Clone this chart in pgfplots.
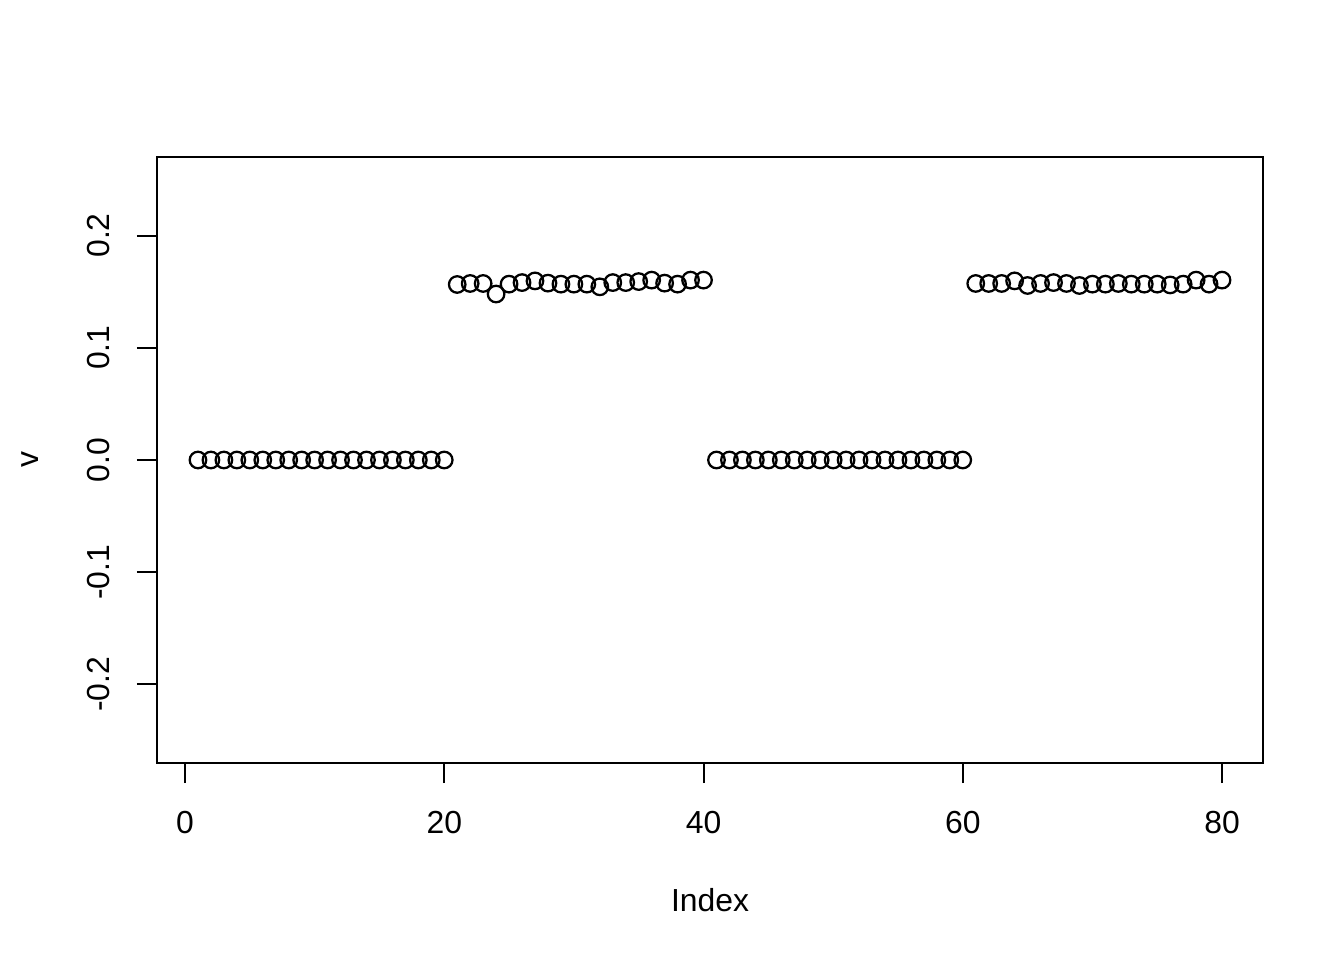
\documentclass[12pt,border=0pt]{standalone}
\usepackage{fontspec}
\setmainfont{Liberation Sans}
\usepackage{pgfplots}
\pgfplotsset{compat=1.18}
\usepackage{pgfplotstable}

\pgfplotstableread{
i v
1 0
2 0
3 0
4 0
5 0
6 0
7 0
8 0
9 0
10 0
11 0
12 0
13 0
14 0
15 0
16 0
17 0
18 0
19 0
20 0
21 0.1564
22 0.1573
23 0.1573
24 0.1479
25 0.1567
26 0.1581
27 0.1596
28 0.1576
29 0.1567
30 0.1567
31 0.1567
32 0.1543
33 0.1581
34 0.1581
35 0.1590
36 0.1603
37 0.1576
38 0.1567
39 0.1603
40 0.1603
41 0
42 0
43 0
44 0
45 0
46 0
47 0
48 0
49 0
50 0
51 0
52 0
53 0
54 0
55 0
56 0
57 0
58 0
59 0
60 0
61 0.1573
62 0.1573
63 0.1573
64 0.1596
65 0.1555
66 0.1573
67 0.1581
68 0.1573
69 0.1555
70 0.1567
71 0.1567
72 0.1573
73 0.1567
74 0.1567
75 0.1567
76 0.1560
77 0.1567
78 0.1603
79 0.1567
80 0.1603
}\vdata

\begin{document}
\begin{tikzpicture}
  % page frame: 1344x960 px at 0.375bp per px
  \path[use as bounding box] (-58.875bp,-73.875bp) rectangle (445.125bp,286.125bp);
  \begin{axis}[
      at={(0,0)}, anchor=south west,
      scale only axis,
      width=414.75bp, height=227.25bp,
      xmin=-2.16, xmax=83.16,
      ymin=-0.27, ymax=0.27,
      xtick={0,20,40,60,80},
      ytick={-0.2,-0.1,0,0.1,0.2},
      yticklabels={-0.2,-0.1,0.0,0.1,0.2},
      tick pos=left,
      tick align=outside,
      major tick length=7.5bp,
      axis line style={line width=0.75bp},
      every tick/.style={black, line width=0.75bp},
      /pgf/number format/assume math mode=true,
      xticklabel style={anchor=center, inner sep=0pt, yshift=-15bp},
      yticklabel style={xshift=-14.25bp, rotate=90, anchor=center, inner sep=0pt},
      xlabel={Index},
      ylabel={v},
      xlabel style={at={(axis description cs:0.5,-0.2261)}, anchor=center, inner sep=0pt},
      ylabel style={at={(axis description cs:-0.1148,0.5)}, anchor=center, inner sep=0pt},
    ]
    \addplot[only marks, mark=o, mark size=3.1bp, black,
      mark options={line width=0.85bp}] table[x=i, y=v] {\vdata};
  \end{axis}
\end{tikzpicture}
\end{document}
